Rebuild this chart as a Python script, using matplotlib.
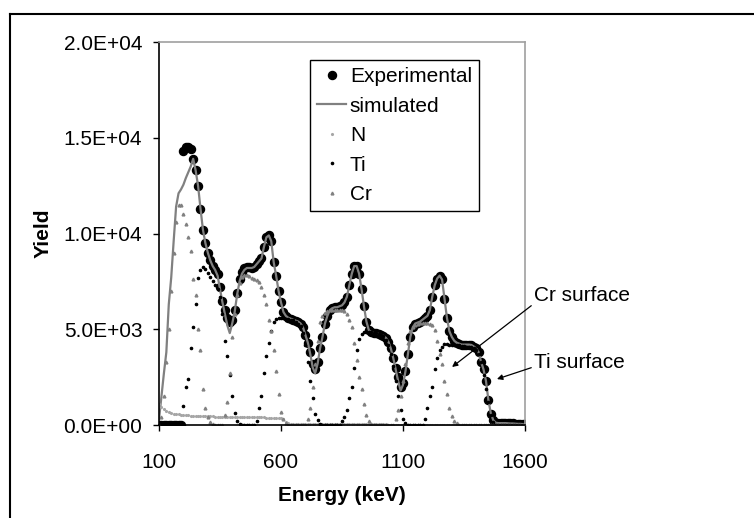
import numpy as np
import matplotlib
matplotlib.use("Agg")
import matplotlib.pyplot as plt
from matplotlib.lines import Line2D

plt.rcParams["font.family"] = ["Liberation Sans", "DejaVu Sans"]

# channel energies (keV), 10 keV steps
energy = np.arange(100, 1601, 10)

experimental = [
    0, 0, 0, 0, 0, 0, 0, 0, 0, 0,                                  # 100-190
    14300, 14500, 14500, 14400, 13900, 13300, 12500, 11300, 10200, 9500,  # 200-290
    9000, 8600, 8300, 8100, 7900, 7200, 6500, 6000, 5600, 5400,   # 300-390
    5500, 6000, 6900, 7600, 8000, 8200, 8250, 8250, 8200, 8250,   # 400-490
    8400, 8550, 8700, 9300, 9800, 9900, 9600, 8500, 7800, 7000,   # 500-590
    6400, 5900, 5700, 5600, 5550, 5500, 5450, 5400, 5300, 5100,   # 600-690
    4700, 4300, 3800, 3200, 2900, 3300, 4000, 4600, 5300, 5700,   # 700-790
    6000, 6100, 6150, 6150, 6200, 6250, 6400, 6700, 7300, 7900,   # 800-890
    8300, 8300, 7900, 7100, 6200, 5400, 4950, 4850, 4800, 4800,   # 900-990
    4750, 4700, 4650, 4550, 4350, 4000, 3500, 3000, 2500, 2000,   # 1000-1090
    2200, 2800, 3700, 4600, 5100, 5300, 5350, 5400, 5500, 5600,   # 1100-1190
    5700, 6000, 6700, 7300, 7650, 7800, 7600, 6600, 5600, 4900,   # 1200-1290
    4600, 4400, 4300, 4250, 4200, 4200, 4200, 4200, 4180, 4100,   # 1300-1390
    4000, 3800, 3300, 2900, 2300, 1300, 600, 250, 120, 100,       # 1400-1490
    100, 100, 100, 90, 80, 80, 70, 60, 60, 50,                    # 1500-1590
    50,                                                           # 1600
]

simulated = [
    300, 1500, 2700, 3800, 6300, 7700, 9600, 11400, 12100, 12300,
    12550, 12900, 13200, 13500, 13900, 13300, 12500, 11300, 10200, 9500,
    9000, 8600, 8300, 8100, 7800, 7100, 6400, 5800, 5200, 4800,
    5300, 5900, 6800, 7500, 7900, 8100, 8200, 8200, 8200, 8250,
    8400, 8550, 8700, 9300, 9800, 9900, 9600, 8500, 7800, 7000,
    6400, 5900, 5700, 5600, 5550, 5500, 5450, 5400, 5300, 5100,
    4700, 4300, 3700, 3000, 2700, 3200, 4000, 4600, 5300, 5700,
    6000, 6100, 6150, 6150, 6200, 6250, 6400, 6700, 7300, 7900,
    8300, 8300, 7900, 7100, 6200, 5400, 4950, 4850, 4800, 4800,
    4750, 4700, 4650, 4550, 4350, 4000, 3500, 2900, 2300, 1800,
    2100, 2800, 3700, 4600, 5100, 5300, 5350, 5400, 5500, 5600,
    5700, 6000, 6700, 7300, 7650, 7800, 7600, 6600, 5600, 4900,
    4600, 4400, 4300, 4250, 4200, 4200, 4200, 4200, 4180, 4100,
    4000, 3800, 3300, 2900, 2300, 1300, 600, 250, 120, 100,
    100, 100, 100, 90, 80, 80, 70, 60, 60, 50,
    50,
]

nitrogen = [
    1100, 950, 850, 750, 680, 630, 600, 580, 560, 540,
    520, 510, 500, 490, 480, 475, 470, 465, 460, 455,
    450, 450, 445, 440, 440, 435, 430, 430, 425, 420,
    420, 420, 415, 415, 410, 410, 405, 405, 400, 400,
    400, 400, 395, 395, 390, 390, 390, 385, 385, 380,
    380, 300, 150, 80, 60, 55, 50, 50, 50, 50,
    50, 50, 45, 45, 45, 45, 45, 40, 40, 40,
    40, 40, 40, 40, 35, 35, 35, 35, 35, 35,
    35, 30, 30, 30, 30, 30, 30, 30, 30, 30,
    30, 30, 30, 30, 25, 25, 25, 25, 25, 25,
    25, 25, 25, 25, 25, 25, 25, 20, 20, 20,
    20, 20, 20, 20, 20, 20, 20, 20, 20, 20,
    20, 20, 20, 20, 20, 20, 20, 20, 20, 20,
    20, 20, 20, 20, 20, 20, 20, 20, 20, 20,
    20, 20, 20, 20, 20, 20, 20, 20, 20, 20,
    20,
]

titanium = [
    0, 0, 0, 0, 0, 0, 0, 0, 0, 0,
    1000, 2000, 2400, 4000, 5100, 6300, 7700, 8100, 8250, 8150,
    7950, 7750, 7500, 7300, 7100, 6700, 5800, 4400, 3600, 2600,
    1500, 650, 200, 50, 0, 0, 0, 0, 0, 0,
    200, 900, 1500, 2700, 3600, 4300, 4900, 5400, 5550, 5600,
    5600, 5600, 5550, 5550, 5500, 5500, 5400, 5300, 5150, 4800,
    4200, 3300, 2300, 1400, 600, 250, 50, 0, 0, 0,
    0, 0, 0, 0, 0, 200, 400, 800, 1400, 2000,
    3000, 3900, 4500, 4750, 4850, 4850, 4850, 4850, 4800, 4800,
    4750, 4700, 4650, 4450, 4200, 3700, 3100, 2300, 1500, 800,
    300, 100, 0, 0, 0, 0, 0, 0, 0, 300,
    900, 1500, 2000, 2900, 3500, 3900, 4100, 4250, 4250, 4200,
    4200, 4200, 4200, 4200, 4150, 4150, 4100, 4100, 4050, 4000,
    3900, 3700, 3300, 2600, 1900, 1200, 500, 150, 0, 0,
    0, 0, 0, 0, 0, 0, 0, 0, 0, 0,
    0,
]

chromium = [
    0, 400, 1500, 3300, 5000, 7000, 9000, 10600, 11500, 11500,
    11000, 10500, 9800, 9100, 7600, 6800, 5000, 3900, 1900, 900,
    400, 150, 50, 0, 0, 0, 0, 500, 1200, 2700,
    4600, 5800, 6800, 7400, 7750, 7850, 7850, 7800, 7700, 7600,
    7550, 7450, 7200, 6800, 6300, 5500, 4900, 3900, 2800, 1600,
    700, 300, 100, 0, 0, 0, 0, 0, 0, 0,
    0, 300, 900, 2000, 3200, 4400, 5400, 5700, 5850, 5950,
    6000, 6000, 6000, 6000, 6000, 6000, 5950, 5800, 5500, 5100,
    4300, 3400, 2500, 1900, 1100, 500, 200, 50, 0, 0,
    0, 0, 0, 0, 0, 0, 0, 300, 800, 1500,
    2300, 3200, 4300, 4900, 5100, 5200, 5300, 5350, 5350, 5350,
    5350, 5300, 5200, 4950, 4400, 3700, 3200, 2300, 1600, 900,
    450, 200, 100, 0, 0, 0, 0, 0, 0, 0,
    0, 0, 0, 0, 0, 0, 0, 0, 0, 0,
    0, 0, 0, 0, 0, 0, 0, 0, 0, 0,
    0,
]

x_ticks = [100, 600, 1100, 1600]
y_ticks = [0, 5000, 10000, 15000, 20000]
y_tick_labels = ["0.0E+00", "5.0E+03", "1.0E+04", "1.5E+04", "2.0E+04"]

FS = 15

fig = plt.figure(figsize=(7.54, 5.18), dpi=100)
ax = fig.add_axes([0.2109, 0.1795, 0.4854, 0.7394])

ax.plot(energy, experimental, "o", color="black", markersize=5.8, label="Experimental")
ax.plot(energy, simulated, "-", color="#808080", linewidth=1.6, label="simulated")
ax.plot(energy, nitrogen, ".", color="#a6a6a6", markersize=2.5, label="N")
ax.plot(energy, titanium, ".", color="black", markersize=3.2, label="Ti")
ax.plot(energy, chromium, "^", color="#808080", markersize=2, label="Cr")

ax.set_xlim(100, 1600)
ax.set_ylim(0, 20000)
ax.set_xticks(x_ticks)
ax.set_xticklabels([str(t) for t in x_ticks])
ax.set_yticks(y_ticks)
ax.set_yticklabels(y_tick_labels)
ax.tick_params(axis="both", direction="out", length=4, width=1, labelsize=FS)
ax.tick_params(axis="x", pad=16)
ax.tick_params(axis="y", pad=8)

for side in ("top", "right"):
    ax.spines[side].set_color("#a0a0a0")
    ax.spines[side].set_linewidth(1.2)
for side in ("left", "bottom"):
    ax.spines[side].set_color("black")
    ax.spines[side].set_linewidth(1.2)

ax.set_xlabel("Energy (keV)", fontsize=FS, fontweight="bold", labelpad=10)
ax.set_ylabel("Yield", fontsize=FS, fontweight="bold", labelpad=8)

handles = [
    Line2D([], [], linestyle="none", marker="o", color="black", markersize=5.8),
    Line2D([], [], linestyle="-", color="#808080", linewidth=1.6),
    Line2D([], [], linestyle="none", marker=".", color="#a6a6a6", markersize=2.5),
    Line2D([], [], linestyle="none", marker=".", color="black", markersize=3.2),
    Line2D([], [], linestyle="none", marker="^", color="#808080", markersize=2),
]
leg = ax.legend(handles, ["Experimental", "simulated", "N", "Ti", "Cr"],
                loc="upper left", bbox_to_anchor=(0.413, 0.953), fontsize=FS,
                frameon=True, fancybox=False, edgecolor="black", framealpha=1,
                handlelength=1.35, handletextpad=0.2, labelspacing=0.5,
                borderpad=0.35, borderaxespad=0)
leg.get_frame().set_linewidth(1.0)

ax.annotate("Cr surface", xy=(1301, 3030), xytext=(1637, 6740),
            ha="left", va="center", fontsize=FS, annotation_clip=False,
            arrowprops=dict(arrowstyle="-|>", color="black", lw=0.9,
                            relpos=(0, 0.1), shrinkA=0, shrinkB=0,
                            mutation_scale=8))
ax.annotate("Ti surface", xy=(1485, 2400), xytext=(1637, 3240),
            ha="left", va="center", fontsize=FS, annotation_clip=False,
            arrowprops=dict(arrowstyle="-|>", color="black", lw=0.9,
                            relpos=(0, 0.3), shrinkA=0, shrinkB=0,
                            mutation_scale=8))

# outer chart frame (top and left edges only visible)
fig.add_artist(Line2D([10 / 754, 1.0], [1 - 13.5 / 518] * 2, color="black", linewidth=1.5))
fig.add_artist(Line2D([10 / 754] * 2, [0.0, 1 - 13.5 / 518], color="black", linewidth=1.5))

fig.savefig("out.png", dpi=100)
plt.close(fig)
